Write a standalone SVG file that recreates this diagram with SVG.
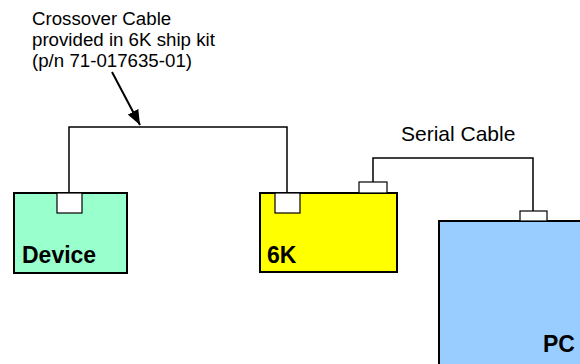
<svg xmlns="http://www.w3.org/2000/svg" width="580" height="364" viewBox="0 0 580 364">
<style>
.box{stroke:#000;stroke-width:2}
.port{fill:#fff;stroke:#000;stroke-width:1.2}
.wire{fill:none;stroke:#000;stroke-width:1.5}
.lbl{font-family:"Liberation Sans",Arial,sans-serif;font-weight:bold;font-size:23px;fill:#000}
.note{font-family:"Liberation Sans",Arial,sans-serif;font-size:18.7px;fill:#000}
</style>
<defs>
<marker id="ah" markerWidth="15" markerHeight="12" refX="15" refY="6" orient="auto" markerUnits="userSpaceOnUse" viewBox="0 0 15 12">
<path d="M0,0 L15,6 L0,12 z" fill="#000"/>
</marker>
</defs>
<rect width="580" height="364" fill="#fff"/>
<g id="connectors">
<polyline class="wire" points="69,193 69,127 287,127 287,193"/>
<polyline class="wire" points="373,182 373,158 533,158 533,211"/>
<line x1="112" y1="72" x2="140" y2="125" stroke="#000" stroke-width="2" marker-end="url(#ah)"/>
</g>
<g id="device">
<rect class="box" x="14" y="193" width="113" height="80" fill="#99FFCC"/>
<rect class="port" x="57" y="193" width="25" height="20"/>
<text class="lbl" x="22" y="263">Device</text>
</g>
<g id="sixk">
<rect class="box" x="260" y="193" width="137" height="79" fill="#FFFF00"/>
<rect class="port" x="275" y="193" width="25" height="20"/>
<rect class="port" x="359" y="182" width="28" height="11"/>
<text class="lbl" x="267" y="263">6K</text>
</g>
<g id="pc">
<rect class="box" x="439" y="221" width="150" height="160" fill="#99CCFF"/>
<rect class="port" x="520" y="211" width="27" height="10"/>
<text class="lbl" x="543" y="352">PC</text>
</g>
<g id="labels">
<text class="note" x="32" y="25">Crossover Cable</text>
<text class="note" x="32" y="46">provided in 6K ship kit</text>
<text class="note" x="32" y="67">(p/n 71-017635-01)</text>
<text class="note" x="401" y="141" style="font-size:21px">Serial Cable</text>
</g>
</svg>
